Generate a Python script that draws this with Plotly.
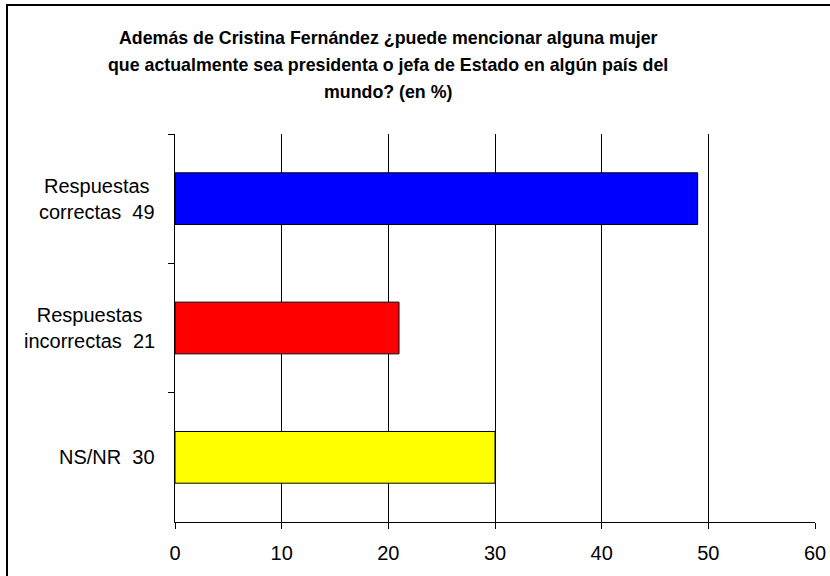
import plotly.graph_objects as go

categories = ["Respuestas<br>correctas\u00a0 49", "Respuestas<br>incorrectas\u00a0 21", "NS/NR\u00a0 30"]
values = [49, 21, 30]
colors = ["#0000FF", "#FF0000", "#FFFF00"]
x_ticks = [0, 10, 20, 30, 40, 50, 60]
title_lines = [
    "Además de Cristina Fernández ¿puede mencionar alguna mujer",
    "que actualmente sea presidenta o jefa de Estado en algún país del",
    "mundo? (en %)",
]

FONT = "Liberation Sans, Arial, sans-serif"

fig = go.Figure()
fig.add_trace(go.Bar(
    y=categories, x=values, orientation="h",
    marker=dict(color=colors, line=dict(color="black", width=1)),
    width=0.4, hoverinfo="x+y",
))

L, R, T, B = 175, 15, 134, 54
W, H = 830, 576
pw = W - L - R
ph = H - T - B

fig.update_layout(
    width=W, height=H, autosize=False,
    margin=dict(l=L, r=R, t=T, b=B, pad=0, autoexpand=False),
    paper_bgcolor="white", plot_bgcolor="white",
    showlegend=False,
    font=dict(family=FONT, color="black", size=20),
    xaxis=dict(
        range=[0, 60], tickvals=x_ticks, ticktext=[str(v) for v in x_ticks],
        showgrid=True, gridcolor="black", gridwidth=1,
        showline=True, linecolor="black", linewidth=1,
        ticks="outside", ticklen=6, tickcolor="black",
        ticklabelstandoff=7, automargin=False,
        zeroline=False, tickfont=dict(size=20, family=FONT),
        fixedrange=True,
    ),
    yaxis=dict(
        type="category", autorange="reversed", automargin=False,
        showline=True, linecolor="black", linewidth=1,
        ticks="outside", ticklen=6, tickcolor="black", tickson="boundaries",
        showticklabels=False, showgrid=False, zeroline=False,
        fixedrange=True,
    ),
)

# category labels (centered multi-line)
for c in categories:
    fig.add_annotation(
        x=0, xref="paper", y=c, yref="y", text=c, showarrow=False,
        xanchor="right", yanchor="middle", align="center", xshift=-18,
        font=dict(size=20, family=FONT, color="black"),
    )

# title lines
title_y = [38, 65, 92]
for line, yy in zip(title_lines, title_y):
    fig.add_annotation(
        x=(388 - L) / pw, xref="paper", y=(H - B - yy) / ph, yref="paper",
        text="<b>" + line + "</b>", showarrow=False,
        xanchor="center", yanchor="middle",
        font=dict(size=17.8, family=FONT, color="black"),
    )

# outer chart border
fig.add_shape(
    type="rect", xref="paper", yref="paper",
    x0=(7 - L) / pw, x1=(833 - L) / pw,
    y0=(H - B - 580) / ph, y1=(H - B - 5) / ph,
    line=dict(color="black", width=2), fillcolor="rgba(0,0,0,0)", layer="below",
)

fig.write_html(
    "out.html",
    config={"displayModeBar": False, "responsive": False},
    post_script="document.body.style.margin='0';document.body.style.overflow='hidden';",
)
